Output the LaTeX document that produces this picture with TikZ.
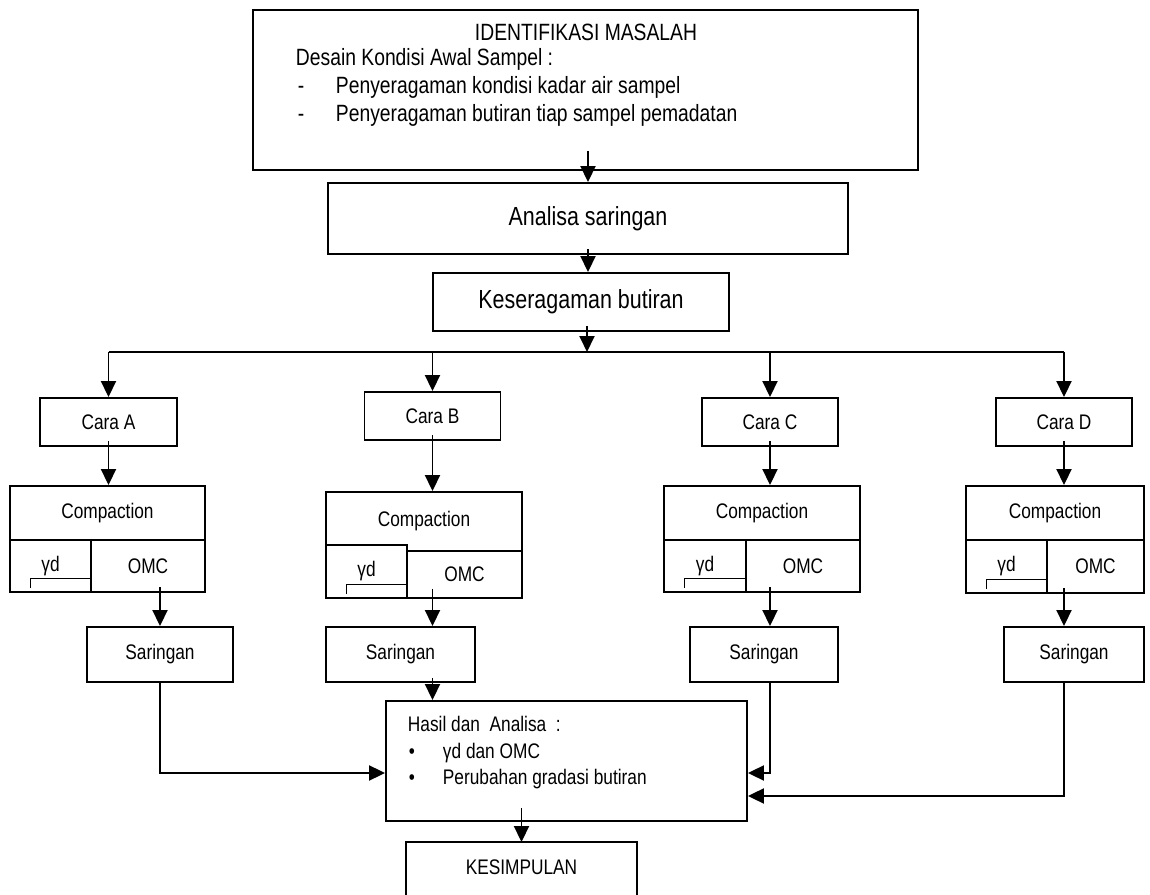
\documentclass[tikz,border=0pt]{standalone}
\usepackage{fontspec}
\setmainfont{Liberation Sans}[FakeStretch=0.82]
\usetikzlibrary{arrows.meta}

\begin{document}
\begin{tikzpicture}[x=0.02cm,y=-0.02cm,>={Triangle[length=0.32cm,width=0.3cm]},line width=1.1pt,
		box/.style={draw,rectangle,inner sep=0pt,font=\fontsize{12}{14}\selectfont},
		big/.style={font=\fontsize{14.9}{18}\selectfont},
		top/.style={inner sep=0pt,font=\fontsize{13.4}{16}\selectfont},
		txt/.style={inner sep=0pt,anchor=base west,font=\fontsize{12}{14}\selectfont},
		uline/.style={line width=0.6pt}]
		
		\useasboundingbox (0,0) rectangle (1150,895);
		\clip (0,0) rectangle (1150,895);
		
		% identifikasi masalah
		\node[box,minimum width=13.3cm,minimum height=3.2cm] (idf) at (585.5,90) {};
		\node[top,anchor=base] (t0) at (586,41) {IDENTIFIKASI MASALAH};
		\node[top,anchor=base west] (t1) at (295,66) {Desain Kondisi Awal Sampel :};
		\node[top,anchor=base west] (t2) at (297,94) {\makebox[0.76cm][l]{-}Penyeragaman kondisi kadar air sampel};
		\node[top,anchor=base west] (t3) at (297,122) {\makebox[0.76cm][l]{-}Penyeragaman butiran tiap sampel pemadatan};
		
		% analisa, keseragaman
		\node[box,big,minimum width=10.4cm,minimum height=1.42cm] (ana) at (588,218.5) {Analisa saringan};
		\node[box,big,minimum width=5.92cm,minimum height=1.16cm] (ksr) at (581,302) {Keseragaman butiran};
		\coordinate (bar) at (587,352);
		\path[->]
		([yshift=0.4cm]idf.south -| ana.north) edge (ana.north)
		([yshift=0.12cm]ana.south) edge (ana.south |- ksr.north)
		([yshift=0.12cm]ksr.south -| bar) edge (bar);
		
		% cara
		\node[box,minimum width=2.74cm,minimum height=0.96cm] (c1) at (108.5,422) {Cara A};
		\node[box,minimum width=2.72cm,minimum height=0.96cm] (c2) at (432.5,416) {Cara B};
		\node[box,minimum width=2.72cm,minimum height=0.96cm] (c3) at (770,422) {Cara C};
		\node[box,minimum width=2.72cm,minimum height=0.96cm] (c4) at (1064,422) {Cara D};
		\draw (c1.north |- bar) -- (c4.north |- bar);
		\path[->]
		(c1.north |- bar) edge (c1.north)
		(c2.north |- bar) edge (c2.north)
		(c3.north |- bar) edge (c3.north)
		(c4.north |- bar) edge (c4.north);
		
		% compaction
		\node[box,minimum width=3.9cm,minimum height=1.08cm] (p1) at (107.5,513) {Compaction};
		\node[box,minimum width=1.62cm,minimum height=1.04cm] (g1) at (50.5,566) {γd};
		\node[box,minimum width=2.28cm,minimum height=1.04cm] (o1) at (148,566) {OMC};
		
		\node[box,minimum width=3.92cm,minimum height=1.18cm] (p2) at (424,521.5) {Compaction};
		\node[box,minimum width=2.30cm,minimum height=0.94cm] (o2) at (464.5,574.5) {OMC};
		\node[box,fill=white,minimum width=1.62cm,minimum height=1.06cm] (g2) at (366.5,571.5) {γd};
		
		\node[box,minimum width=3.92cm,minimum height=1.08cm] (p3) at (762,513) {Compaction};
		\node[box,minimum width=1.64cm,minimum height=1.04cm] (g3) at (705,566) {γd};
		\node[box,minimum width=2.28cm,minimum height=1.04cm] (o3) at (803,566) {OMC};
		
		\node[box,minimum width=3.56cm,minimum height=1.08cm] (p4) at (1055,513) {Compaction};
		\node[box,minimum width=1.62cm,minimum height=1.06cm] (g4) at (1006.5,566.5) {γd};
		\node[box,minimum width=1.94cm,minimum height=1.06cm] (o4) at (1095.5,566.5) {OMC};
		
		\draw[uline] ([shift={(0.42cm,0.1cm)}]g1.south west) |- ([yshift=0.28cm]g1.south east);
		\draw[uline] ([shift={(0.42cm,0.1cm)}]g2.south west) |- ([yshift=0.28cm]g2.south east);
		\draw[uline] ([shift={(0.42cm,0.1cm)}]g3.south west) |- ([yshift=0.28cm]g3.south east);
		\draw[uline] ([shift={(0.42cm,0.1cm)}]g4.south west) |- ([yshift=0.28cm]g4.south east);
		
		\path[->]
		([yshift=0.12cm]c1.south) edge (c1.south |- p1.north)
		([yshift=0.12cm]c2.south) edge (c2.south |- p2.north)
		([yshift=0.12cm]c3.south) edge (c3.south |- p3.north)
		([yshift=0.12cm]c4.south) edge (c4.south |- p4.north);
		
		% saringan
		\node[box,minimum width=2.92cm,minimum height=1.1cm] (s1) at (160,654.5) {Saringan};
		\node[box,minimum width=2.98cm,minimum height=1.1cm] (s2) at (400.5,654.5) {Saringan};
		\node[box,minimum width=2.96cm,minimum height=1.1cm] (s3) at (764,654.5) {Saringan};
		\node[box,minimum width=2.80cm,minimum height=1.1cm] (s4) at (1074,654.5) {Saringan};
		\path[->]
		([yshift=0.12cm]o1.south -| s1.north) edge (s1.north)
		([yshift=0.2cm]o2.south -| c2.south) edge (s2.north -| c2.south)
		([yshift=0.12cm]o3.south -| c3.south) edge (s3.north -| c3.south)
		([yshift=0.12cm]o4.south -| c4.south) edge (s4.north -| c4.south);
		
		% hasil dan analisa
		\node[box,minimum width=7.22cm,minimum height=2.4cm] (hs) at (566.5,761) {};
		\node[txt] (h0) at (407,731) {Hasil dan\ \ Analisa\ \ :};
		\node[txt] (h1) at (408,758) {\makebox[0.68cm][l]{\large•}γd dan OMC};
		\node[txt] (h2) at (408,784) {\makebox[0.68cm][l]{\large•}Perubahan gradasi butiran};
		\path[->]
		([yshift=0.1cm]s2.south -| c2.south) edge (hs.north -| c2.south);
		\draw[->] (s1.south) |- ([yshift=-0.24cm]hs.west);
		\draw[->] (s3.south -| c3.south) |- ([yshift=-0.24cm]hs.east);
		\draw[->] (s4.south -| c4.south) |- ([yshift=-0.7cm]hs.east);
		
		% kesimpulan
		\node[inner sep=0pt,font=\fontsize{12}{14}\selectfont,minimum width=4.58cm,minimum height=0.96cm] (km) at (521.5,867) {KESIMPULAN};
		\draw (km.north west) rectangle ([yshift=-1cm]km.south east);
		\path[->]
		([yshift=0.28cm]hs.south -| km.north) edge (km.north);
\end{tikzpicture}
\end{document}
